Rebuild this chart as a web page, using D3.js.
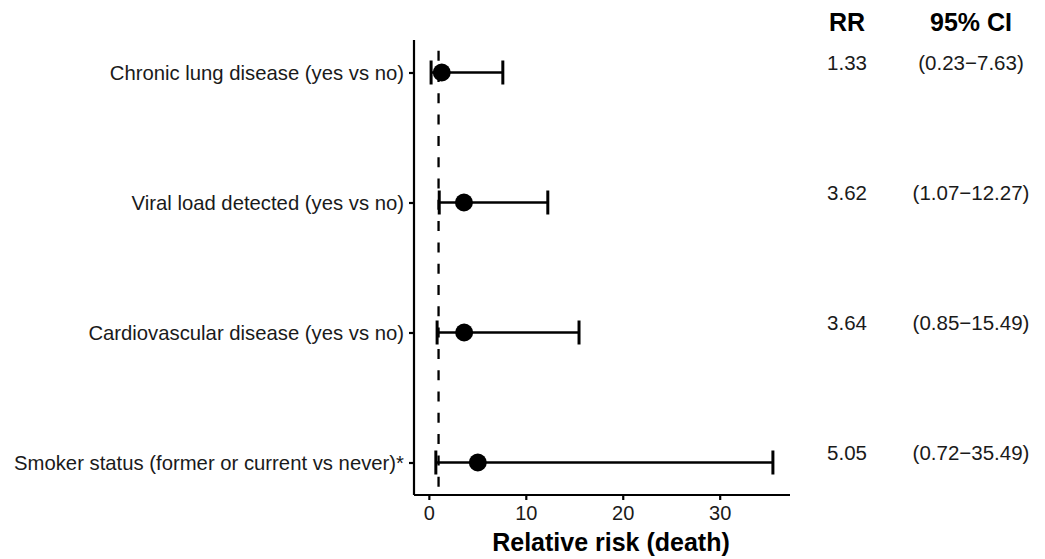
<!DOCTYPE html>
<html>
<head>
<meta charset="utf-8">
<script src="https://cdn.jsdelivr.net/npm/d3@7"></script>
<style>
  body { margin: 0; background: #fff; }
  text { font-family: "Liberation Sans", Arial, sans-serif; }
</style>
</head>
<body>
<div id="chart"></div>
<script>
// forest plot data
const factors = [
    "Chronic lung disease (yes vs no)",
    "Viral load detected (yes vs no)",
    "Cardiovascular disease (yes vs no)",
    "Smoker status (former or current vs never)*"
];
const rr = [1.33, 3.62, 3.64, 5.05];
const lower = [0.23, 1.07, 0.85, 0.72];
const upper = [7.63, 12.27, 15.49, 35.49];
const xTicks = [0, 10, 20, 30];

const width = 1045, height = 559;
const panel = { left: 414, right: 790, top: 40, bottom: 495 };

const data = factors.map((f, i) => ({ factor: f, rr: rr[i], lo: lower[i], hi: upper[i] }));

const svg = d3.select("#chart")
    .append("svg")
    .attr("width", width)
    .attr("height", height);

const x = d3.scaleLinear()
    .domain([-1.533, 37.253])
    .range([panel.left, panel.right]);

const y = d3.scalePoint()
    .domain(factors)
    .range([panel.top, panel.bottom])
    .padding(0.25);

// reference line at RR = 1
svg.append("line")
    .attr("x1", x(1)).attr("x2", x(1))
    .attr("y1", panel.top).attr("y2", panel.bottom)
    .attr("stroke", "black")
    .attr("stroke-width", 2.3)
    .attr("stroke-dasharray", "10,11.3")
    .attr("stroke-dashoffset", 10.6);

// axes
const xAxis = svg.append("g")
    .attr("transform", `translate(0, ${panel.bottom})`)
    .call(d3.axisBottom(x).tickValues(xTicks).tickSize(5).tickPadding(6));

const yAxis = svg.append("g")
    .attr("transform", `translate(${panel.left}, 0)`)
    .call(d3.axisLeft(y).tickSize(5).tickPadding(5));

[xAxis, yAxis].forEach(g => {
    g.select(".domain").attr("stroke", "black").attr("stroke-width", 2.2);
    g.selectAll(".tick line").attr("stroke", "black").attr("stroke-width", 2.2);
    g.selectAll(".tick text").attr("fill", "#1a1a1a");
});
xAxis.select(".domain").attr("d", `M${panel.left},0H${panel.right}`);
yAxis.select(".domain").attr("d", `M0,${panel.top}V${panel.bottom}`);
xAxis.selectAll(".tick text").style("font-size", "20px");
yAxis.selectAll(".tick text").style("font-size", "20.3px");

// error bars
const rows = svg.selectAll(".row")
    .data(data)
    .enter().append("g")
    .attr("class", "row");

rows.append("line")
    .attr("x1", d => x(d.lo)).attr("x2", d => x(d.hi))
    .attr("y1", d => y(d.factor)).attr("y2", d => y(d.factor))
    .attr("stroke", "black").attr("stroke-width", 2.5);

rows.selectAll(".cap")
    .data(d => [d.lo, d.hi].map(v => ({ v: v, f: d.factor })))
    .enter().append("line")
    .attr("class", "cap")
    .attr("x1", c => x(c.v)).attr("x2", c => x(c.v))
    .attr("y1", c => y(c.f) - 12).attr("y2", c => y(c.f) + 12)
    .attr("stroke", "black").attr("stroke-width", 3);

rows.append("circle")
    .attr("cx", d => x(d.rr))
    .attr("cy", d => y(d.factor))
    .attr("r", 9)
    .attr("fill", "black");

// RR and CI columns
const rrX = 847, ciX = 971;
svg.append("text").attr("x", rrX).attr("y", 31)
    .attr("text-anchor", "middle").style("font-size", "25px").style("font-weight", "bold")
    .text("RR");
svg.append("text").attr("x", ciX).attr("y", 31)
    .attr("text-anchor", "middle").style("font-size", "25px").style("font-weight", "bold")
    .text("95% CI");

rows.append("text")
    .attr("x", rrX).attr("y", d => y(d.factor) - 3)
    .attr("text-anchor", "middle").style("font-size", "20.5px").attr("fill", "#1a1a1a")
    .text(d => d.rr.toFixed(2));

rows.append("text")
    .attr("x", ciX).attr("y", d => y(d.factor) - 3)
    .attr("text-anchor", "middle").style("font-size", "20.5px").attr("fill", "#1a1a1a")
    .text(d => `(${d.lo.toFixed(2)}\u2212${d.hi.toFixed(2)})`);

// axis title
svg.append("text")
    .attr("x", 611)
    .attr("y", 551)
    .attr("text-anchor", "middle")
    .style("font-size", "25px").style("font-weight", "bold")
    .text("Relative risk (death)");
</script>
</body>
</html>
